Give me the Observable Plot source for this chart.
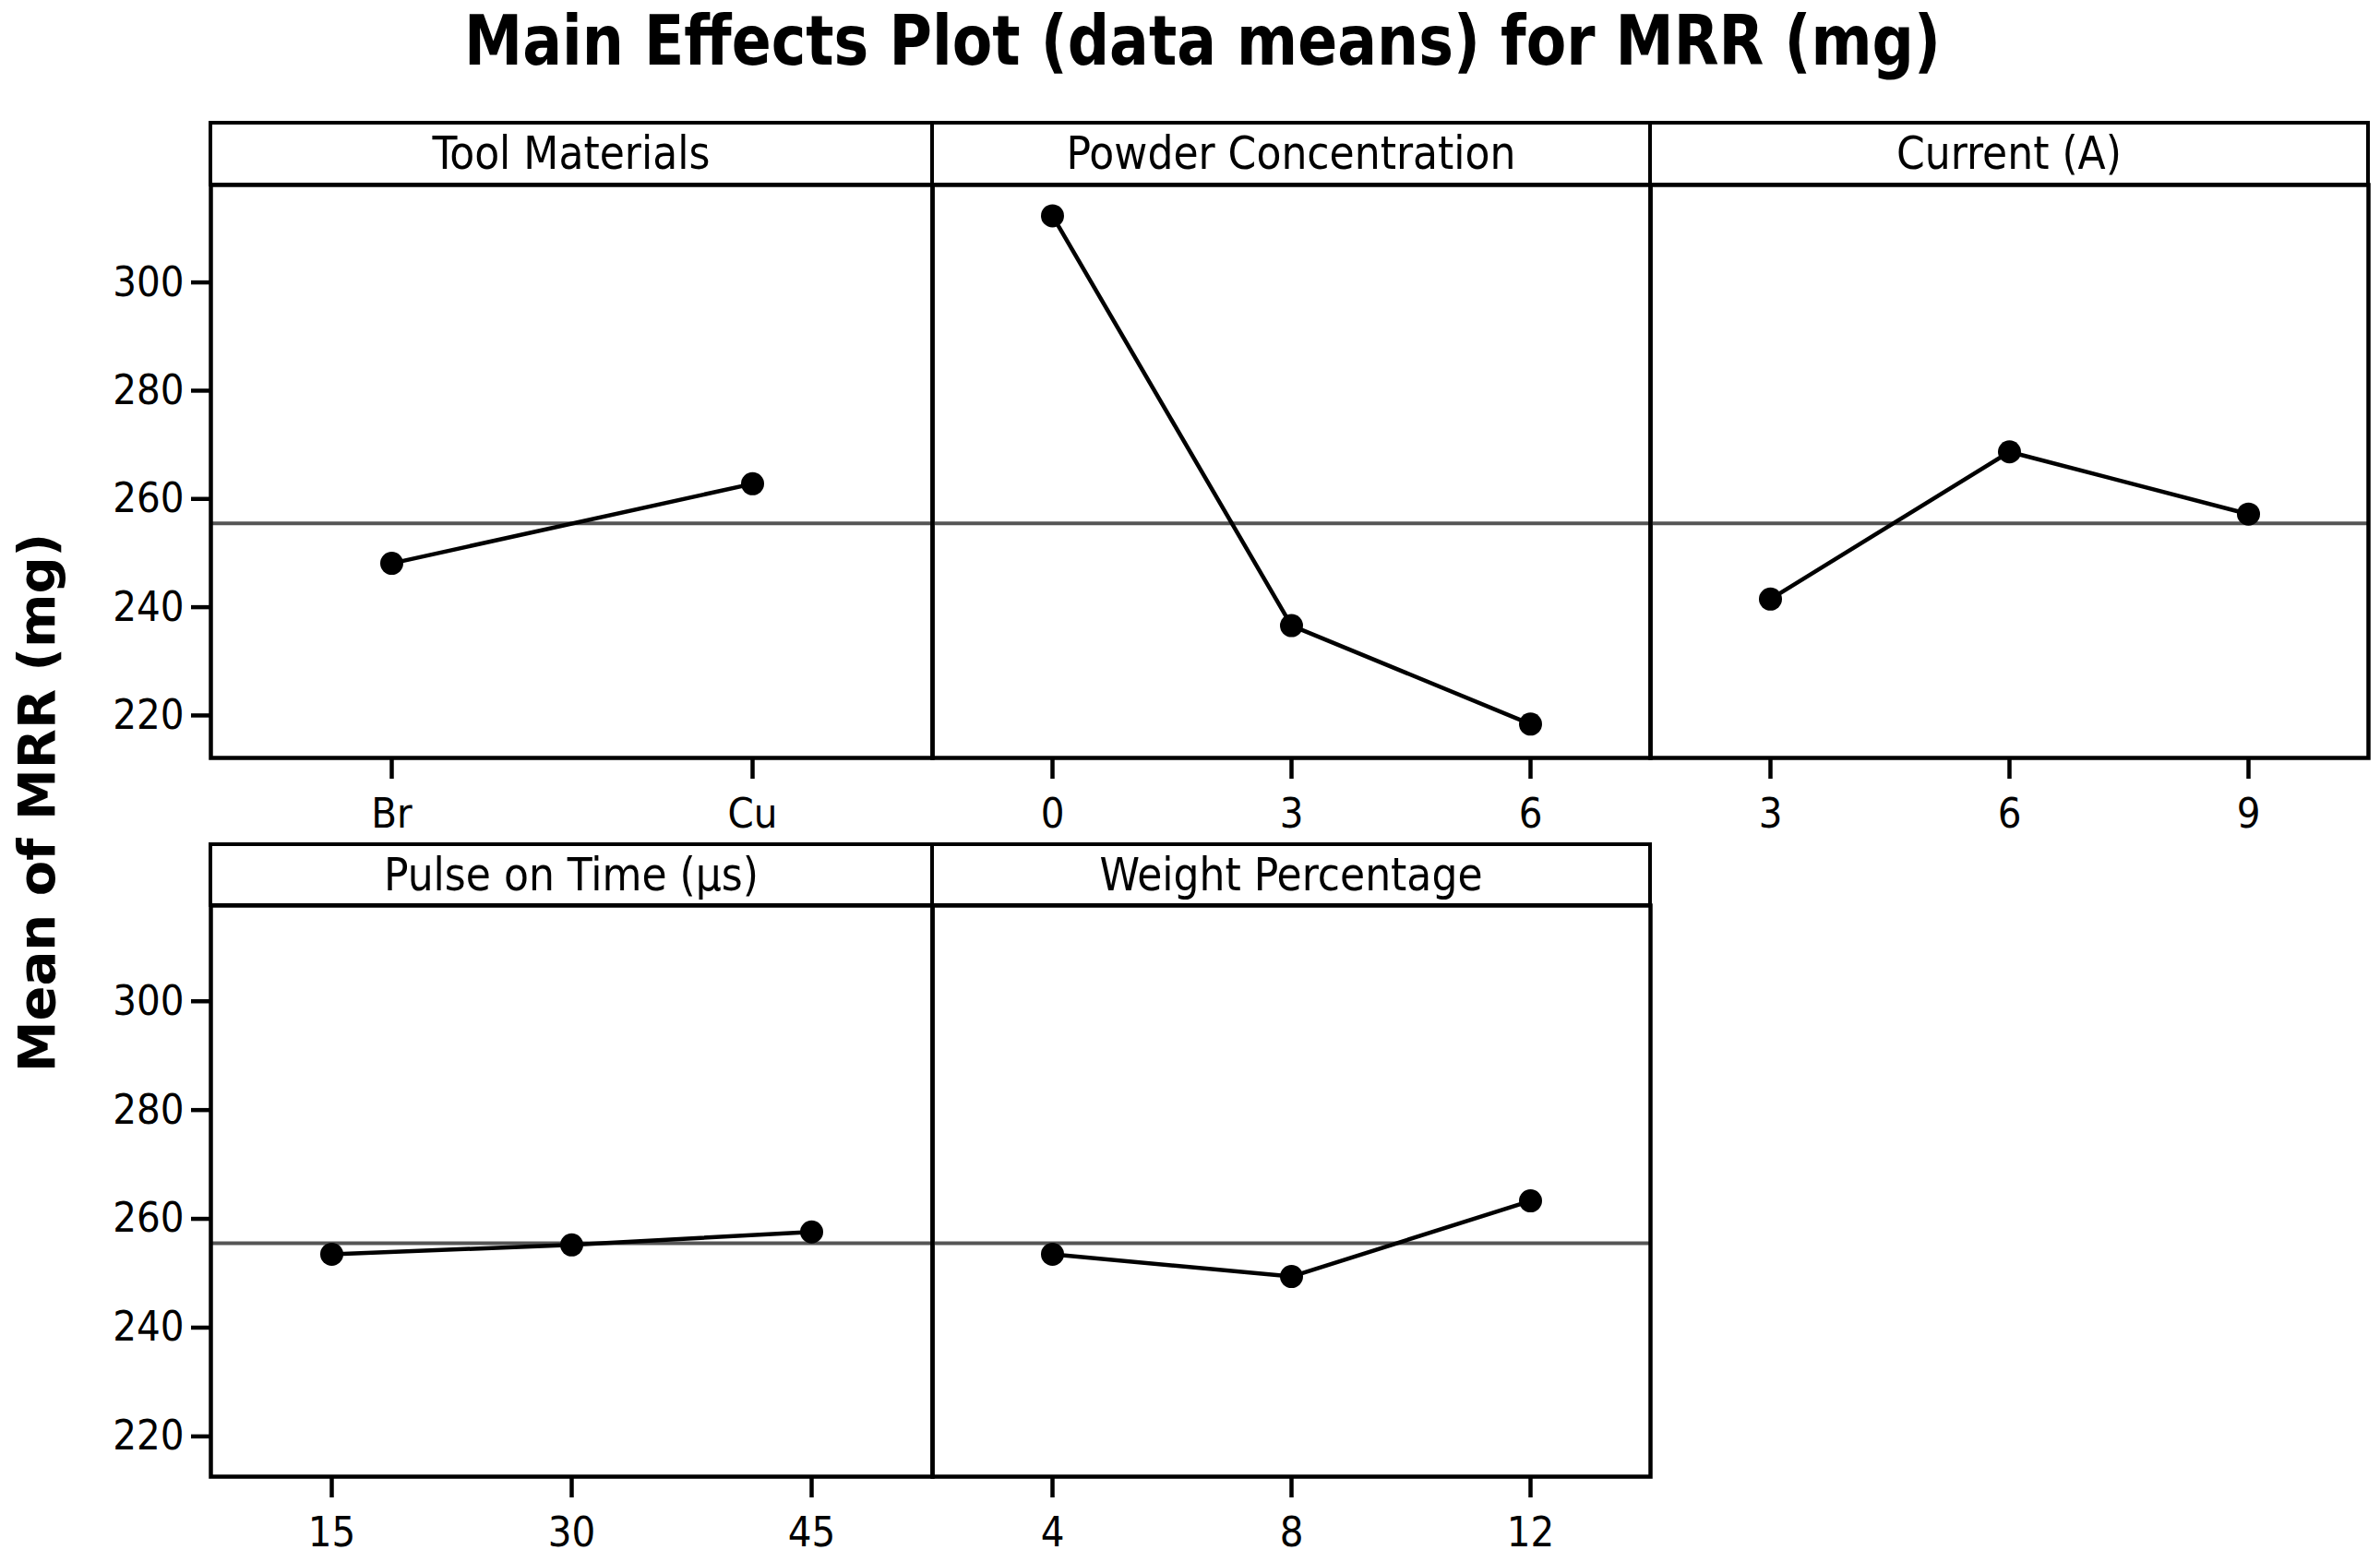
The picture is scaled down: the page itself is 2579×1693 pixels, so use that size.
<!DOCTYPE html>
<html><head><meta charset="utf-8">
<script src="https://cdn.jsdelivr.net/npm/d3@7"></script>
<script src="https://cdn.jsdelivr.net/npm/@observablehq/plot@0.6"></script>
<style>
html,body{margin:0;padding:0;background:#fff;}
#root{position:relative;width:2579px;height:1693px;background:#fff;overflow:hidden;font-family:'DejaVu Sans Condensed','DejaVu Sans',sans-serif;color:#000;}
.strip{position:absolute;box-sizing:border-box;border:4.5px solid #000;display:flex;align-items:center;justify-content:center;font-size:49px;white-space:nowrap;}
.panel{position:absolute;}
#title{position:absolute;left:503px;top:7px;font-family:'DejaVu Sans',sans-serif;font-weight:bold;font-size:75px;line-height:75px;white-space:nowrap;transform-origin:0 0;}
#ylab{position:absolute;left:40px;top:870px;font-family:'DejaVu Sans',sans-serif;font-weight:bold;font-size:56px;line-height:56px;white-space:nowrap;transform:translate(-50%,-50%) rotate(-90deg);}
</style></head><body><div id="root"></div>
<script>
// ---- data ----
const titleText = "Main Effects Plot (data means) for MRR (mg)";
const yLabelText = "Mean of MRR (mg)";
const factors = ["Tool Materials", "Powder Concentration", "Current (A)", "Pulse on Time (μs)", "Weight Percentage"];
const toolLevels = ["Br", "Cu"];
const toolMeans = [248.1, 262.8];
const powderLevels = ["0", "3", "6"];
const powderMeans = [312.3, 236.6, 218.4];
const currentLevels = ["3", "6", "9"];
const currentMeans = [241.5, 268.7, 257.2];
const pulseLevels = ["15", "30", "45"];
const pulseMeans = [253.5, 255.2, 257.6];
const weightLevels = ["4", "8", "12"];
const weightMeans = [253.5, 249.4, 263.3];
const grandMean = 255.5;
const yTicks = [220, 240, 260, 280, 300];

// ---- layout ----
const colLeft = [228, 1010, 1788];
const colWidth = [782, 778, 778];
const rowStripTop = [133, 915];
const rowPlotTop = [200, 981];
const rowPlotBottom = [821, 1600];
const rowDomain = [[212.15, 318.0], [212.6, 317.6]];

const root = document.getElementById("root");

const title = document.createElement("div");
title.id = "title";
title.textContent = titleText;
root.appendChild(title);

const ylab = document.createElement("div");
ylab.id = "ylab";
ylab.textContent = yLabelText;
root.appendChild(ylab);

function panel(name, levels, means, col, row) {
  const data = levels.map((l, i) => ({level: l, mean: means[i]}));
  const fl = colLeft[col], fw = colWidth[col];
  const pt = rowPlotTop[row], pb = rowPlotBottom[row];
  const ml = col === 0 ? 160 : 6, mr = 6, mt = 6, mb = 100;
  const marks = [
    Plot.ruleY([grandMean], {stroke: "#555", strokeWidth: 4}),
    Plot.line(data, {x: "level", y: "mean", stroke: "#000", strokeWidth: 4.5}),
    Plot.dot(data, {x: "level", y: "mean", r: 12.5, fill: "#000"}),
    Plot.frame({stroke: "#000", strokeWidth: 4.5}),
    Plot.axisX({tickSize: 23, tickPadding: 21, strokeWidth: 4.5, fontSize: 45, label: null})
  ];
  if (col === 0) marks.push(Plot.axisY({ticks: yTicks, tickSize: 21, tickPadding: 8, strokeWidth: 4.5, fontSize: 45, label: null}));
  const chart = Plot.plot({
    width: fw + ml + mr,
    height: (pb - pt) + mt + mb,
    marginLeft: ml, marginRight: mr, marginTop: mt, marginBottom: mb,
    x: {type: "point", domain: levels, padding: 0.5},
    y: {domain: rowDomain[row], axis: col === 0 ? undefined : null},
    style: {fontFamily: "'DejaVu Sans Condensed','DejaVu Sans',sans-serif", fontSize: "45px", color: "#000", background: "transparent", overflow: "visible"},
    marks
  });
  chart.classList.add("panel");
  chart.style.left = (fl - ml) + "px";
  chart.style.top = (pt - mt) + "px";
  root.appendChild(chart);

  const strip = document.createElement("div");
  strip.className = "strip";
  strip.style.left = (fl - 2) + "px";
  strip.style.top = (rowStripTop[row] - 2) + "px";
  strip.style.width = (fw + 4) + "px";
  strip.style.height = (pt - rowStripTop[row] + 4) + "px";
  strip.textContent = name;
  root.appendChild(strip);
}

panel(factors[0], toolLevels, toolMeans, 0, 0);
panel(factors[1], powderLevels, powderMeans, 1, 0);
panel(factors[2], currentLevels, currentMeans, 2, 0);
panel(factors[3], pulseLevels, pulseMeans, 0, 1);
panel(factors[4], weightLevels, weightMeans, 1, 1);

// fit title to reference width
const tw = title.getBoundingClientRect().width;
title.style.transform = `scaleX(${1600 / tw})`;
</script>
</body></html>
